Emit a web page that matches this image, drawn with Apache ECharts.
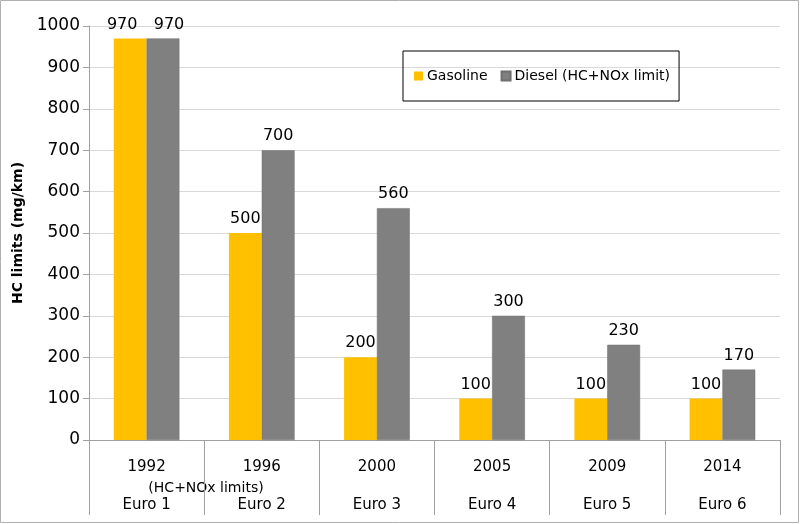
<!DOCTYPE html>
<html>
<head>
<meta charset="utf-8">
<script src="https://cdn.jsdelivr.net/npm/echarts@6/dist/echarts.min.js"></script>
<style>html,body{margin:0;padding:0;background:#fff}#c{width:800px;height:524px}</style>
</head>
<body>
<div id="c"></div>
<script>
const years = ['1992', '1996', '2000', '2005', '2009', '2014'];
const stages = ['Euro 1', 'Euro 2', 'Euro 3', 'Euro 4', 'Euro 5', 'Euro 6'];
const gasoline = [970, 500, 200, 100, 100, 100];
const diesel = [970, 700, 560, 300, 230, 170];
const yTicks = [0, 100, 200, 300, 400, 500, 600, 700, 800, 900, 1000];

const FONT = 'DejaVu Sans';
const labelStyle = {show: true, position: 'top', distance: 6, fontFamily: FONT, fontSize: 16, color: '#000'};
const chart = echarts.init(document.getElementById('c'), null, {renderer: 'canvas'});
chart.setOption({
  backgroundColor: '#fff',
  animation: false,
  textStyle: {fontFamily: FONT},
  grid: {left: 89, right: 20, top: 26, bottom: 84},
  legend: {
    orient: 'horizontal',
    left: 403, top: 51,
    padding: [18, 9, 18, 11],
    borderColor: '#000', borderWidth: 1,
    itemWidth: 9, itemHeight: 9, itemGap: 13,
    icon: 'rect',
    textStyle: {fontFamily: FONT, fontSize: 14, color: '#000', padding: [0, 0, 0, -1]},
    data: ['Gasoline', 'Diesel (HC+NOx limit)']
  },
  xAxis: {
    type: 'category',
    data: years.map((y, i) => y + '|' + stages[i]),
    axisLine: {lineStyle: {color: '#a0a0a0', width: 1}},
    axisTick: {show: true, interval: 0, length: 75, lineStyle: {color: '#a0a0a0'}},
    axisLabel: {
      interval: 0, margin: 17,
      formatter: v => { const p = v.split('|'); return '{y|' + p[0] + '}\n{e|' + p[1] + '}'; },
      rich: {
        y: {fontFamily: FONT, fontSize: 15, color: '#000', lineHeight: 20},
        e: {fontFamily: FONT, fontSize: 15, color: '#000', lineHeight: 56}
      }
    }
  },
  yAxis: {
    type: 'value', min: yTicks[0], max: yTicks[yTicks.length - 1], interval: 100,
    name: 'HC limits (mg/km)', nameLocation: 'middle', nameGap: 57, nameRotate: 90,
    nameTextStyle: {fontFamily: FONT, fontSize: 14, fontWeight: 'bold', color: '#000'},
    axisLine: {show: true, lineStyle: {color: '#a0a0a0'}},
    axisTick: {show: true, length: 6, lineStyle: {color: '#a0a0a0'}},
    axisLabel: {fontFamily: FONT, fontSize: 17, color: '#000', margin: 9, formatter: v => String(v)},
    splitLine: {lineStyle: {color: '#d9d9d9', width: 1}}
  },
  series: [
    {
      name: 'Gasoline', type: 'bar',
      data: gasoline.map((v, i) => i === 0 ? {value: v, label: {offset: [-8, 0]}} : v),
      barGap: '0%', barCategoryGap: '43%',
      itemStyle: {color: '#FFC000'},
      label: labelStyle
    },
    {
      name: 'Diesel (HC+NOx limit)', type: 'bar',
      data: diesel.map((v, i) => i === 0 ? {value: v, label: {offset: [6, 0]}} : v),
      itemStyle: {color: '#808080', borderColor: '#6e6e6e', borderWidth: 0.5},
      label: labelStyle
    }
  ],
  graphic: [
    {type: 'rect', shape: {x: 0.5, y: 0.5, width: 798, height: 522}, style: {fill: 'none', stroke: '#b0b0b0', lineWidth: 1}, silent: true},
    {type: 'text', x: 206, y: 488, style: {text: '(HC+NOx limits)', font: '14px "DejaVu Sans"', fill: '#000', textAlign: 'center', textVerticalAlign: 'middle'}}
  ]
});
</script>
</body>
</html>
